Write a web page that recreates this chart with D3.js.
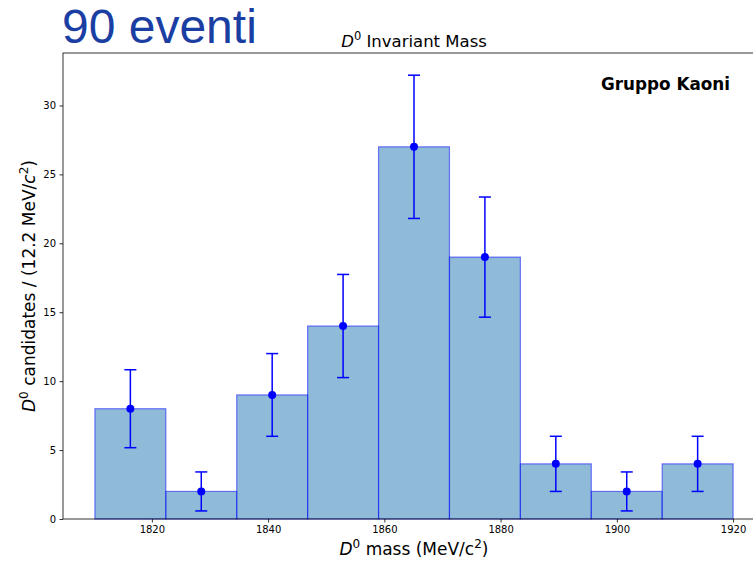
<!DOCTYPE html>
<html>
<head>
<meta charset="utf-8">
<script src="https://cdn.jsdelivr.net/npm/d3@7/dist/d3.min.js"></script>
<style>
  html, body { margin: 0; padding: 0; background: #fff; }
  svg { display: block; }
  text { font-family: "DejaVu Sans", sans-serif; }
</style>
</head>
<body>
<svg id="chart" width="753" height="561"></svg>
<script>
// Histogram of D0 candidates: 9 bins of 12.2 MeV/c^2 ending at 1920
const binWidth = 12.2;
const binEdges = [1810.2, 1822.4, 1834.6, 1846.8, 1859.0, 1871.2, 1883.4, 1895.6, 1907.8, 1920.0];
const counts = [8, 2, 9, 14, 27, 19, 4, 2, 4];
const xTicks = [1820, 1840, 1860, 1880, 1900, 1920];
const yTicks = [0, 5, 10, 15, 20, 25, 30];

const svg = d3.select("#chart");
const margin = { left: 63, top: 53, right: 765, bottom: 519 };

const bins = counts.map((n, i) => ({
  x0: binEdges[i],
  x1: binEdges[i + 1],
  n: n,
  err: Math.sqrt(n),
  c: (binEdges[i] + binEdges[i + 1]) / 2
}));

// Matplotlib-style 5% margins on data range
const xMin = binEdges[0], xMax = binEdges[binEdges.length - 1];
const xPad = (xMax - xMin) * 0.05;
const yMax = d3.max(bins, d => d.n + d.err) * 1.05;

const x = d3.scaleLinear().domain([xMin - xPad, xMax + xPad]).range([margin.left, margin.right]);
const y = d3.scaleLinear().domain([0, yMax]).range([margin.bottom, margin.top]);

// Bars
svg.append("g").selectAll("rect").data(bins).join("rect")
  .attr("x", d => x(d.x0))
  .attr("y", d => y(d.n))
  .attr("width", d => x(d.x1) - x(d.x0))
  .attr("height", d => y(0) - y(d.n))
  .attr("fill", "#1f77b4").attr("fill-opacity", 0.5)
  .attr("stroke", "#0000ff").attr("stroke-opacity", 0.5).attr("stroke-width", 1.2);

// Error bars
const eb = svg.append("g").selectAll("g").data(bins).join("g");
eb.append("line")
  .attr("x1", d => x(d.c)).attr("x2", d => x(d.c))
  .attr("y1", d => y(d.n - d.err)).attr("y2", d => y(d.n + d.err))
  .attr("stroke", "#0000ff").attr("stroke-width", 1.5);
[-1, 1].forEach(s => {
  eb.append("line")
    .attr("x1", d => x(d.c) - 6).attr("x2", d => x(d.c) + 6)
    .attr("y1", d => y(d.n + s * d.err)).attr("y2", d => y(d.n + s * d.err))
    .attr("stroke", "#0000ff").attr("stroke-width", 1.5);
});
eb.append("circle")
  .attr("cx", d => x(d.c)).attr("cy", d => y(d.n)).attr("r", 4)
  .attr("fill", "#0000ff");

// Axes
const xAxis = d3.axisBottom(x).tickValues(xTicks).tickSize(3.5).tickPadding(3.5).tickFormat(d3.format("d"));
const yAxis = d3.axisLeft(y).tickValues(yTicks).tickSize(3.5).tickPadding(3.5);

const gx = svg.append("g").attr("transform", `translate(0,${margin.bottom})`).call(xAxis);
const gy = svg.append("g").attr("transform", `translate(${margin.left},0)`).call(yAxis);
[gx, gy].forEach(g => {
  g.select(".domain").remove();
  g.selectAll("text").attr("font-size", 10).attr("fill", "#000").style("font-family", "DejaVu Sans, sans-serif");
  g.selectAll("line").attr("stroke", "#000").attr("stroke-width", 0.8);
});

// Spines
svg.append("rect")
  .attr("x", margin.left).attr("y", margin.top)
  .attr("width", margin.right - margin.left).attr("height", margin.bottom - margin.top)
  .attr("fill", "none").attr("stroke", "#000").attr("stroke-width", 0.8);

const cx = (margin.left + margin.right) / 2;

// Title
const title = svg.append("text").attr("x", cx).attr("y", 47)
  .attr("text-anchor", "middle").attr("font-size", 16.5);
title.append("tspan").attr("font-style", "italic").text("D");
title.append("tspan").attr("font-size", 11.5).attr("dy", -7).text("0");
title.append("tspan").attr("dy", 7).text(" Invariant Mass");

// X label
const xl = svg.append("text").attr("x", cx).attr("y", 555)
  .attr("text-anchor", "middle").attr("font-size", 17);
xl.append("tspan").attr("font-style", "italic").text("D");
xl.append("tspan").attr("font-size", 12).attr("dy", -7).text("0");
xl.append("tspan").attr("dy", 7).text(" mass (MeV/c");
xl.append("tspan").attr("font-size", 12).attr("dy", -7).text("2");
xl.append("tspan").attr("dy", 7).text(")");

// Y label
const yl = svg.append("text")
  .attr("transform", `translate(35,${(margin.top + margin.bottom) / 2}) rotate(-90)`)
  .attr("text-anchor", "middle").attr("font-size", 17);
yl.append("tspan").attr("font-style", "italic").text("D");
yl.append("tspan").attr("font-size", 12).attr("dy", -7).text("0");
yl.append("tspan").attr("dy", 7).text(" candidates / (12.2 MeV/");
yl.append("tspan").attr("font-style", "italic").text("c");
yl.append("tspan").attr("font-size", 12).attr("dy", -7).text("2");
yl.append("tspan").attr("dy", 7).text(")");

// Group tag
svg.append("text").attr("x", 730).attr("y", 90)
  .attr("text-anchor", "end").attr("font-size", 16.8).attr("font-weight", "bold")
  .text("Gruppo Kaoni");

// Event count banner
svg.append("text").attr("x", 62).attr("y", 43)
  .attr("font-size", 48).attr("fill", "#1a3ea2")
  .style("font-family", "Liberation Sans, Arial, sans-serif")
  .text("90 eventi");
</script>
</body>
</html>
